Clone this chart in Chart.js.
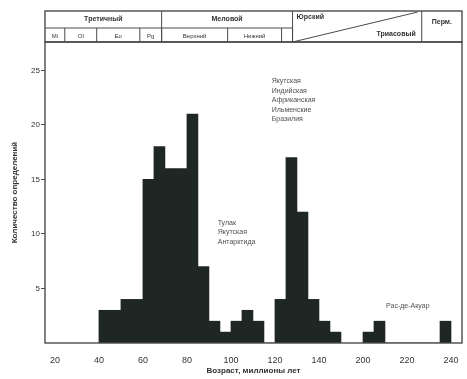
<!DOCTYPE html>
<html>
<head>
<meta charset="utf-8">
<script src="https://cdn.jsdelivr.net/npm/chart.js@4.4.1/dist/chart.umd.min.js"></script>
<style>
  body { margin: 0; background: #fff; }
  canvas { display: block; }
</style>
</head>
<body>
<canvas id="ageChart" width="467" height="379"></canvas>
<script>
// начало интервала (млн лет) и число определений, шаг 5 млн лет
const binStart = [40, 45, 50, 55, 60, 65, 70, 75, 80, 85, 90, 95, 100, 105, 110, 115,
                  120, 125, 130, 135, 140, 145, 200, 205, 210, 215, 220, 225, 230, 235];
const binCount = [3, 3, 4, 4, 15, 18, 16, 16, 21, 7, 2, 1, 2, 3, 2, 0,
                  4, 17, 12, 4, 2, 1, 1, 2, 0, 0, 0, 0, 0, 2];
const xTickAges = [20, 40, 60, 80, 100, 120, 140, 200, 220, 240];
const yTicks = [5, 10, 15, 20, 25];

// шкала с разрывом: 150-200 сжато
const breakShift = 40;
function posOf(age) { return age >= 200 ? age - breakShift : age; }
function ageOf(pos) { return pos > 150 ? pos + breakShift : pos; }

// шапка (границы в тех же единицах шкалы)
const periods = [
  { name: 'Третичный', from: 15.5, to: 68.5 },
  { name: 'Меловой', from: 68.5, to: 128 }
];
const epochs = [
  { name: 'Mi', from: 15.5, to: 24.5 },
  { name: 'Ol', from: 24.5, to: 39 },
  { name: 'Eo', from: 39, to: 58.6 },
  { name: 'Pg', from: 58.6, to: 68.5 },
  { name: 'Верхний', from: 68.5, to: 98.5 },
  { name: 'Нижний', from: 98.5, to: 123 },
  { name: '', from: 123, to: 128 }
];
const jurTri = { top: 'Юрский', bottom: 'Триасовый', from: 128, to: 186.7 };
const perm = { name: 'Перм.', from: 186.7, to: 210 };

const notes = [
  { age: 118.5, y: 24, lines: ['Якутская', 'Индийская', 'Африканская', 'Ильменские', 'Бразилия'] },
  { age: 94, y: 11, lines: ['Тулак', 'Якутская', 'Антарктида'] },
  { age: 210.5, y: 3.4, lines: ['Рас-де-Акуар'] }
];

const ink = '#333';
const font = '"Liberation Sans", Arial, sans-serif';

const headerPlugin = {
  id: 'header',
  afterDraw(chart) {
    const ctx = chart.ctx;
    const a = chart.chartArea;
    const xs = chart.scales.x;
    const ys = chart.scales.y;
    const px = p => Math.max(a.left, Math.min(a.right, xs.getPixelForValue(p)));
    const top = 11, mid = 28, bot = a.top;
    ctx.save();
    ctx.strokeStyle = '#4a4a4a';
    ctx.lineWidth = 1.4;
    // рамка графика
    ctx.strokeRect(a.left, a.top, a.right - a.left, a.bottom - a.top);
    // рамка шапки
    ctx.strokeRect(a.left, top, a.right - a.left, bot - top);
    ctx.lineWidth = 1;
    ctx.beginPath();
    ctx.moveTo(a.left, mid);
    ctx.lineTo(px(128), mid);
    periods.forEach(p => { ctx.moveTo(px(p.to), top); ctx.lineTo(px(p.to), bot); });
    epochs.forEach(e => { ctx.moveTo(px(e.to), mid); ctx.lineTo(px(e.to), bot); });
    ctx.moveTo(px(jurTri.to), top); ctx.lineTo(px(jurTri.to), bot);
    ctx.moveTo(px(jurTri.from), bot); ctx.lineTo(px(jurTri.to) - 4, top + 1);
    ctx.stroke();

    ctx.fillStyle = ink;
    ctx.textBaseline = 'middle';
    ctx.textAlign = 'center';
    ctx.font = 'bold 7px ' + font;
    periods.forEach(p => ctx.fillText(p.name, (px(p.from) + px(p.to)) / 2, (top + mid) / 2));
    ctx.font = '6px ' + font;
    epochs.forEach(e => ctx.fillText(e.name, (px(e.from) + px(e.to)) / 2, (mid + bot) / 2 + 1));
    ctx.font = 'bold 7px ' + font;
    ctx.textAlign = 'left';
    ctx.fillText(jurTri.top, px(jurTri.from) + 4, top + 6);
    ctx.textAlign = 'right';
    ctx.fillText(jurTri.bottom, px(jurTri.to) - 6, bot - 8);
    ctx.textAlign = 'center';
    ctx.fillText(perm.name, (px(perm.from) + a.right) / 2, top + 11);

    // подписи групп
    ctx.font = '7px ' + font;
    ctx.textAlign = 'left';
    ctx.fillStyle = '#505050';
    notes.forEach(n => {
      const x0 = xs.getPixelForValue(posOf(n.age));
      const y0 = ys.getPixelForValue(n.y);
      n.lines.forEach((t, i) => ctx.fillText(t, x0, y0 + i * 9.5));
    });
    ctx.restore();
  }
};

const ctx = document.getElementById('ageChart').getContext('2d');
new Chart(ctx, {
  type: 'bar',
  data: {
    datasets: [{
      data: binStart.map((s, i) => ({ x: posOf(s) + 2.5, y: binCount[i] })),
      backgroundColor: '#1f2725',
      borderWidth: 0,
      barPercentage: 1.0,
      categoryPercentage: 1.0
    }]
  },
  options: {
    responsive: false,
    animation: false,
    devicePixelRatio: 1,
    layout: { padding: { top: 42, right: 5, left: 0, bottom: 0 } },
    plugins: { legend: { display: false }, tooltip: { enabled: false } },
    scales: {
      x: {
        type: 'linear',
        min: 15.5,
        max: 205,
        offset: false,
        grid: { display: false },
        border: { display: false },
        afterFit: s => { s.height = 36; },
        afterBuildTicks: s => { s.ticks = xTickAges.map(a => ({ value: posOf(a) })); },
        ticks: {
          color: ink,
          font: { family: font, size: 9 },
          padding: 4,
          maxRotation: 0,
          callback: v => String(ageOf(v))
        },
        title: {
          display: true,
          text: 'Возраст, миллионы лет',
          color: ink,
          font: { family: font, size: 8, weight: 'bold' },
          padding: { top: 0, bottom: 3 }
        }
      },
      y: {
        min: 0,
        max: 27.6,
        grid: { drawOnChartArea: false, tickLength: 4, color: '#4a4a4a' },
        border: { display: false },
        afterFit: s => { s.width = 45; },
        afterBuildTicks: s => { s.ticks = yTicks.map(v => ({ value: v })); },
        ticks: {
          color: ink,
          font: { family: font, size: 8 },
          padding: 1
        },
        title: {
          display: true,
          text: 'Количество определений',
          color: ink,
          font: { family: font, size: 8, weight: 'bold' },
          padding: { top: 10, bottom: 0 }
        }
      }
    }
  },
  plugins: [headerPlugin]
});
</script>
</body>
</html>
